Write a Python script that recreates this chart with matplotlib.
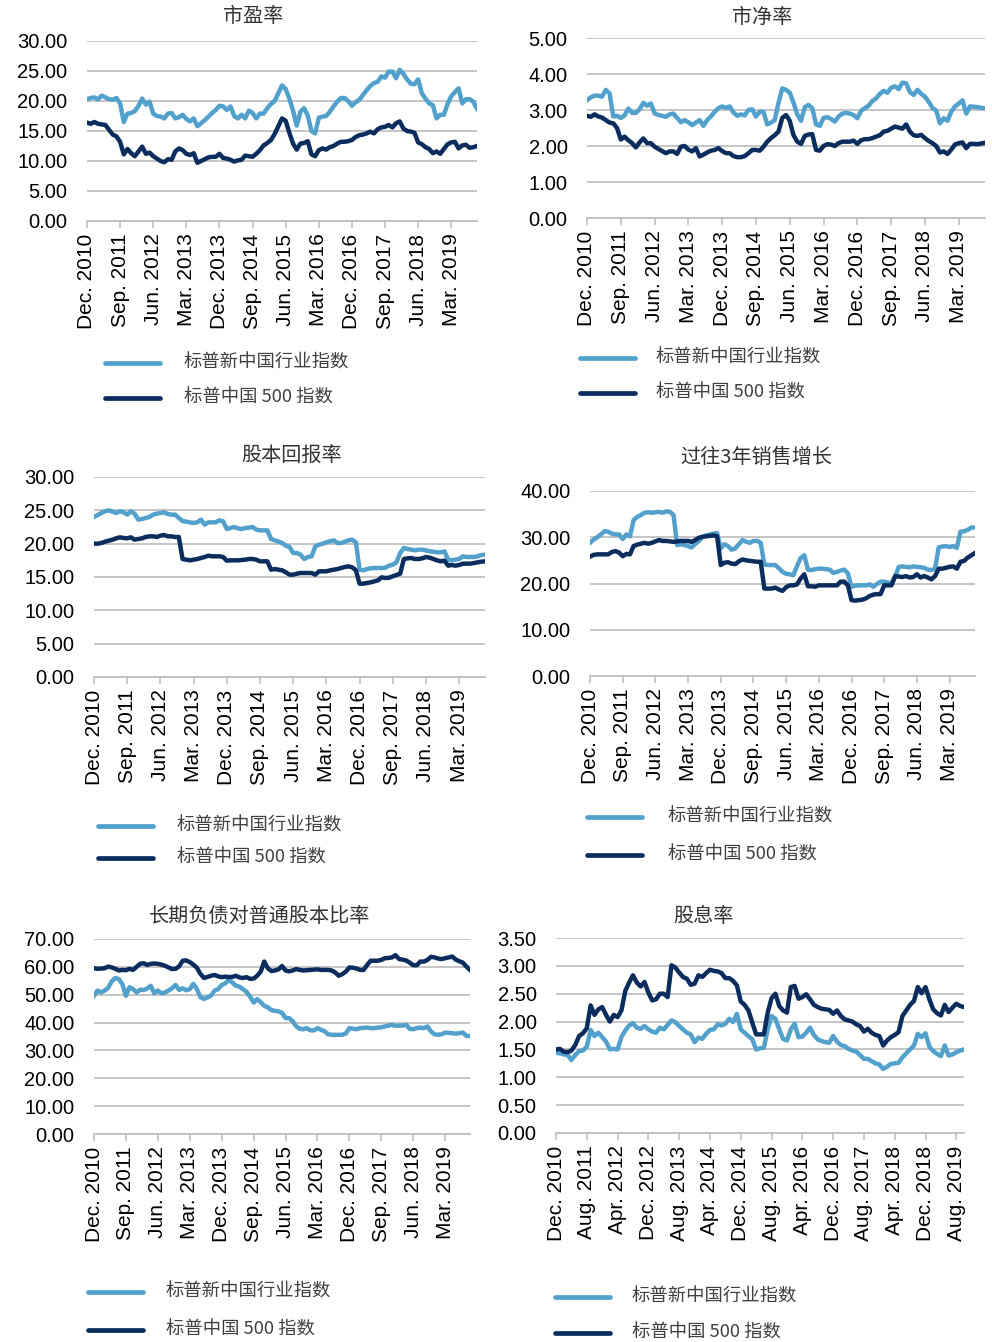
import matplotlib
matplotlib.use('Agg')
import matplotlib.pyplot as plt
from matplotlib.ticker import FormatStrFormatter
import numpy as np
import pandas as pd

# monthly observations, Dec 2010 - Oct 2019
months = pd.date_range('2010-12-01', periods=107, freq='MS')

series_names = ['标普新中国行业指数', '标普中国 500 指数']

pe_new = [20.3, 20.5, 20.6, 20.3, 20.9, 20.6, 20.3, 20.2, 20.5, 19.6,
          16.5, 17.9, 18.0, 18.3, 19.2, 20.4, 19.4, 19.9, 17.9, 17.5,
          17.4, 17.1, 17.9, 18.0, 17.1, 17.3, 17.7, 17.0, 16.6, 17.1,
          15.8, 16.3, 16.8, 17.4, 18.0, 18.5, 19.2, 19.1, 18.5, 19.1,
          17.5, 17.1, 17.7, 17.1, 18.4, 18.0, 17.1, 17.9, 17.9, 18.8,
          19.5, 20.0, 21.3, 22.6, 22.0, 20.4, 18.4, 15.9, 18.2, 18.8,
          17.6, 15.0, 14.6, 17.2, 17.4, 17.5, 18.2, 19.1, 19.9, 20.5,
          20.5, 20.0, 19.2, 19.8, 20.2, 21.0, 21.8, 22.5, 23.0, 23.2,
          24.1, 23.9, 24.9, 24.9, 23.8, 25.2, 24.5, 23.6, 22.9, 22.8,
          23.6, 21.3, 20.4, 19.6, 19.3, 17.1, 17.7, 17.7, 19.5, 20.8,
          21.5, 22.1, 19.6, 20.3, 20.3, 19.9, 18.7]
pe_500 = [16.4, 16.2, 16.5, 16.2, 16.1, 16.0, 15.2, 14.4, 14.1, 13.2,
          11.1, 12.0, 11.3, 10.8, 11.6, 12.4, 11.2, 11.4, 10.8, 10.4,
          10.0, 9.8, 10.3, 10.2, 11.6, 12.1, 11.8, 11.2, 11.0, 11.3,
          9.7, 10.0, 10.3, 10.6, 10.7, 10.7, 11.2, 10.5, 10.4, 10.2,
          9.9, 10.1, 10.2, 10.9, 10.8, 10.7, 11.2, 11.8, 12.6, 13.0,
          13.5, 14.5, 15.8, 17.1, 16.7, 14.7, 12.9, 11.9, 12.9, 13.0,
          13.3, 11.1, 10.8, 11.8, 12.1, 11.9, 12.3, 12.5, 12.9, 13.2,
          13.2, 13.3, 13.5, 14.0, 14.3, 14.4, 14.6, 14.9, 14.6, 15.3,
          15.6, 15.7, 16.0, 15.6, 16.3, 16.6, 15.4, 15.0, 14.9, 14.7,
          13.1, 12.8, 12.3, 12.0, 11.3, 11.6, 11.2, 12.0, 12.8, 13.1,
          13.2, 12.1, 12.6, 12.7, 12.2, 12.3, 12.5]

pb_new = [3.27, 3.35, 3.40, 3.40, 3.37, 3.56, 3.46, 2.82, 2.84, 2.78,
          2.85, 3.04, 2.92, 2.92, 3.02, 3.20, 3.12, 3.18, 2.91, 2.86,
          2.84, 2.81, 2.88, 2.90, 2.78, 2.66, 2.72, 2.66, 2.58, 2.65,
          2.72, 2.56, 2.72, 2.82, 2.95, 3.05, 3.10, 3.06, 3.10, 2.93,
          2.84, 2.88, 2.85, 3.00, 3.02, 2.82, 2.95, 2.95, 2.60, 2.65,
          2.72, 3.20, 3.60, 3.56, 3.48, 3.20, 2.88, 2.70, 3.08, 3.14,
          3.05, 2.60, 2.56, 2.78, 2.80, 2.75, 2.68, 2.82, 2.90, 2.92,
          2.90, 2.86, 2.77, 2.98, 3.05, 3.12, 3.25, 3.32, 3.45, 3.53,
          3.48, 3.62, 3.66, 3.58, 3.76, 3.74, 3.50, 3.42, 3.56, 3.45,
          3.37, 3.23, 3.06, 2.98, 2.63, 2.77, 2.70, 2.95, 3.10, 3.18,
          3.27, 2.90, 3.10, 3.09, 3.08, 3.06, 3.04]
pb_500 = [2.84, 2.81, 2.88, 2.82, 2.79, 2.72, 2.65, 2.63, 2.50, 2.18,
          2.26, 2.16, 2.08, 1.96, 2.10, 2.21, 2.08, 2.08, 1.98, 1.92,
          1.86, 1.80, 1.85, 1.85, 1.78, 1.98, 2.00, 1.90, 1.85, 1.94,
          1.71, 1.76, 1.82, 1.87, 1.89, 1.94, 1.86, 1.80, 1.80, 1.72,
          1.69, 1.69, 1.72, 1.80, 1.89, 1.89, 1.87, 1.98, 2.12, 2.22,
          2.30, 2.40, 2.78, 2.86, 2.70, 2.30, 2.12, 2.06, 2.28, 2.32,
          2.33, 1.89, 1.87, 2.00, 2.05, 2.04, 2.00, 2.08, 2.12, 2.12,
          2.12, 2.15, 2.06, 2.16, 2.19, 2.19, 2.22, 2.26, 2.30, 2.40,
          2.42, 2.48, 2.54, 2.51, 2.48, 2.60, 2.40, 2.30, 2.28, 2.31,
          2.22, 2.14, 2.08, 2.00, 1.82, 1.85, 1.78, 1.90, 2.04, 2.08,
          2.10, 1.94, 2.06, 2.06, 2.05, 2.07, 2.09]

roe_new = [24.0, 24.3, 24.6, 24.85, 25.0, 24.8, 24.6, 24.85, 24.7, 24.35,
           24.85, 24.5, 23.6, 23.7, 23.85, 24.0, 24.35, 24.5, 24.6, 24.7,
           24.45, 24.35, 24.35, 23.85, 23.4, 23.3, 23.2, 23.1, 23.2, 23.6,
           22.85, 23.2, 23.2, 23.2, 23.5, 23.35, 22.2, 22.35, 22.5, 22.3,
           22.2, 22.35, 22.4, 22.5, 22.1, 22.0, 22.0, 22.0, 20.7, 20.5,
           20.3, 20.1, 19.7, 19.5, 18.6, 18.6, 18.35, 17.7, 18.0, 18.1,
           19.6, 19.85, 20.0, 20.2, 20.35, 20.5, 20.1, 20.1, 20.3, 20.5,
           20.6, 20.2, 16.1, 16.0, 16.2, 16.3, 16.35, 16.35, 16.35, 16.4,
           16.7, 16.85, 17.2, 18.6, 19.35, 19.2, 19.1, 19.0, 19.1, 19.1,
           19.0, 18.85, 18.8, 18.7, 18.7, 18.85, 17.6, 17.5, 17.6, 17.7,
           18.1, 18.0, 18.0, 18.0, 18.1, 18.3, 18.35]
roe_500 = [20.0, 20.0, 20.1, 20.3, 20.45, 20.6, 20.8, 20.95, 20.85, 20.8,
           20.95, 20.6, 20.7, 20.8, 21.0, 21.1, 21.1, 21.0, 21.2, 21.3,
           21.1, 21.1, 21.0, 21.0, 17.7, 17.6, 17.5, 17.6, 17.7, 17.85,
           18.0, 18.2, 18.1, 18.1, 18.1, 18.0, 17.45, 17.5, 17.5, 17.5,
           17.55, 17.6, 17.7, 17.7, 17.6, 17.35, 17.35, 17.35, 16.1, 16.2,
           16.1, 16.0, 15.7, 15.35, 15.35, 15.5, 15.6, 15.6, 15.6, 15.6,
           15.35, 15.85, 15.85, 15.85, 16.0, 16.1, 16.2, 16.35, 16.5, 16.6,
           16.45, 16.0, 14.0, 14.0, 14.1, 14.2, 14.35, 14.5, 14.95, 14.85,
           14.9, 15.1, 15.3, 15.5, 17.7, 17.8, 17.85, 17.7, 17.7, 17.8,
           18.0, 17.9, 17.7, 17.5, 17.35, 17.45, 16.7, 16.8, 16.7, 16.8,
           17.0, 17.0, 17.0, 17.1, 17.2, 17.3, 17.35]

sales_new = [28.8, 29.5, 30.0, 30.6, 31.3, 31.2, 30.8, 30.6, 30.6, 29.6,
             30.6, 30.2, 33.7, 34.4, 34.8, 35.3, 35.4, 35.3, 35.4, 35.5,
             35.3, 35.6, 35.5, 34.8, 28.3, 28.5, 28.3, 28.1, 27.8, 28.6,
             29.2, 30.1, 30.4, 30.6, 30.8, 30.9, 27.6, 28.5, 28.1, 27.3,
             27.6, 28.5, 29.4, 29.0, 28.8, 29.2, 29.2, 28.8, 24.1, 24.0,
             24.0, 24.0, 23.3, 22.5, 22.1, 22.0, 21.8, 23.8, 25.5, 26.1,
             23.0, 22.9, 23.1, 23.2, 23.2, 23.1, 23.0, 22.3, 22.5, 22.8,
             23.0, 22.2, 19.3, 19.5, 19.6, 19.6, 19.6, 19.8, 19.3, 19.9,
             20.4, 20.4, 20.2, 20.0, 21.4, 23.6, 23.7, 23.6, 23.5, 23.7,
             23.6, 23.5, 23.4, 23.0, 22.9, 23.2, 27.8, 28.0, 28.1, 27.9,
             28.1, 27.7, 31.2, 31.3, 31.6, 32.1, 32.1]
sales_500 = [25.8, 26.2, 26.3, 26.3, 26.3, 26.3, 26.8, 27.0, 26.7, 25.9,
             26.4, 26.3, 28.1, 28.4, 28.6, 28.8, 28.6, 28.8, 29.1, 29.4,
             29.2, 29.2, 29.1, 29.0, 29.1, 29.2, 29.2, 29.2, 29.0, 29.4,
             29.9, 30.1, 30.2, 30.3, 30.4, 30.2, 24.0, 24.5, 24.6, 24.3,
             24.2, 24.8, 25.2, 25.0, 24.9, 24.8, 24.7, 24.7, 18.9, 18.9,
             18.9, 19.1, 18.7, 18.4, 19.2, 19.6, 19.6, 19.8, 21.1, 22.0,
             19.4, 19.4, 19.3, 19.6, 19.6, 19.6, 19.6, 19.6, 19.6, 20.4,
             20.4, 19.6, 16.4, 16.3, 16.4, 16.5, 16.8, 17.3, 17.6, 17.7,
             17.7, 19.6, 19.6, 19.6, 21.6, 21.5, 21.4, 21.6, 21.3, 21.4,
             22.0, 21.3, 21.6, 21.3, 20.9, 21.6, 23.2, 23.2, 23.4, 23.6,
             23.7, 23.2, 24.7, 24.9, 25.6, 26.1, 26.6]

debt_new = [49.6, 51.5, 50.8, 51.5, 52.5, 54.8, 56.0, 55.6, 53.8, 49.6,
            52.7, 52.0, 50.8, 51.8, 51.7, 52.2, 53.2, 50.5, 51.5, 50.5,
            50.8, 51.5, 52.3, 53.5, 51.7, 52.3, 51.6, 52.0, 53.9, 52.0,
            49.1, 48.5, 49.0, 49.7, 51.5, 52.0, 53.5, 54.1, 55.3, 54.4,
            53.2, 52.9, 52.0, 51.0, 49.3, 47.2, 48.4, 47.3, 46.0, 45.5,
            44.5, 44.2, 44.0, 43.5, 41.6, 41.6, 40.5, 38.6, 37.8, 37.6,
            38.0, 37.2, 37.2, 38.0, 37.4, 36.9, 35.8, 35.6, 35.6, 35.6,
            35.6, 36.1, 38.0, 37.8, 37.6, 38.0, 38.1, 38.2, 38.0, 38.0,
            38.2, 38.3, 38.6, 38.9, 39.2, 38.8, 38.9, 38.9, 39.2, 37.8,
            37.6, 38.0, 38.2, 38.0, 38.6, 36.8, 35.8, 35.6, 35.8, 36.4,
            36.3, 36.2, 36.0, 36.2, 36.4, 35.2, 35.2]
debt_500 = [59.5, 59.3, 59.4, 59.5, 60.1, 59.8, 59.3, 58.7, 58.9, 58.8,
            59.3, 58.9, 60.0, 61.1, 61.3, 60.7, 61.1, 61.2, 61.1, 60.8,
            60.4, 59.8, 59.2, 59.3, 60.2, 62.2, 62.3, 61.7, 60.8, 59.7,
            57.5, 56.0, 56.4, 56.8, 57.1, 56.6, 56.3, 56.5, 56.3, 56.4,
            56.8, 56.2, 56.0, 56.3, 55.7, 55.8, 56.8, 58.3, 61.9, 59.5,
            58.5, 58.7, 59.1, 60.3, 58.7, 58.4, 58.7, 59.2, 58.9, 58.7,
            58.8, 58.9, 59.0, 59.1, 58.9, 58.9, 58.9, 58.7, 58.0, 56.8,
            57.4, 58.3, 59.8, 59.7, 59.4, 58.9, 58.9, 60.7, 62.2, 62.2,
            62.2, 62.5, 63.1, 63.2, 63.4, 64.2, 62.8, 62.6, 62.3, 61.5,
            60.6, 60.6, 61.9, 61.9, 62.5, 63.6, 63.4, 63.0, 62.8, 63.1,
            63.4, 63.7, 62.6, 62.0, 61.5, 60.1, 58.9]

dy_new = [1.44, 1.43, 1.41, 1.40, 1.31, 1.40, 1.47, 1.48, 1.55, 1.85,
          1.74, 1.80, 1.72, 1.64, 1.50, 1.51, 1.50, 1.72, 1.84, 1.93,
          1.97, 1.89, 1.87, 1.92, 1.86, 1.82, 1.80, 1.89, 1.86, 1.94,
          2.02, 1.99, 1.92, 1.86, 1.80, 1.77, 1.63, 1.71, 1.69, 1.78,
          1.85, 1.86, 1.95, 1.93, 1.96, 2.05, 1.99, 2.14, 1.86, 1.80,
          1.74, 1.68, 1.50, 1.52, 1.53, 1.86, 2.10, 2.05, 1.86, 1.69,
          1.66, 1.86, 1.96, 1.72, 1.73, 1.80, 1.89, 1.76, 1.68, 1.65,
          1.63, 1.62, 1.74, 1.64, 1.58, 1.56, 1.51, 1.48, 1.46, 1.40,
          1.33, 1.33, 1.29, 1.25, 1.23, 1.15, 1.19, 1.24, 1.25, 1.26,
          1.36, 1.43, 1.50, 1.57, 1.78, 1.72, 1.79, 1.55, 1.47, 1.42,
          1.38, 1.57, 1.39, 1.41, 1.45, 1.48, 1.50]
dy_500 = [1.50, 1.51, 1.46, 1.45, 1.48, 1.58, 1.74, 1.79, 1.88, 2.29,
          2.12, 2.22, 2.26, 2.12, 2.00, 2.12, 2.08, 2.20, 2.55, 2.70,
          2.83, 2.70, 2.63, 2.71, 2.52, 2.38, 2.40, 2.50, 2.50, 2.44,
          3.01, 2.97, 2.88, 2.80, 2.77, 2.66, 2.68, 2.83, 2.80, 2.87,
          2.93, 2.91, 2.90, 2.87, 2.78, 2.78, 2.73, 2.65, 2.36, 2.30,
          2.20, 1.98, 1.77, 1.77, 1.77, 2.16, 2.42, 2.50, 2.28, 2.20,
          2.16, 2.62, 2.64, 2.41, 2.44, 2.49, 2.40, 2.30, 2.26, 2.23,
          2.22, 2.21, 2.14, 2.20, 2.10, 2.04, 2.02, 2.00, 1.95, 1.92,
          1.82, 1.87, 1.80, 1.76, 1.74, 1.57, 1.66, 1.72, 1.76, 1.81,
          2.10, 2.20, 2.30, 2.37, 2.62, 2.51, 2.62, 2.40, 2.22, 2.15,
          2.11, 2.30, 2.17, 2.25, 2.32, 2.28, 2.26]

LIGHT = '#52A0CC'
DARK = '#0B2D5E'
GRID = '#C0C0C0'
CJK = ['Noto Sans CJK SC', 'DejaVu Sans']

plt.rcParams['font.family'] = ['Liberation Sans', 'Noto Sans CJK SC']

W, H = 992, 1342
fig = plt.figure(figsize=(W / 100, H / 100), dpi=100)


def box(l, t, r, b):
    # pixel rectangle -> figure fraction
    return [l / W, 1 - b / H, (r - l) / W, (b - t) / H]


def draw(title, new, old, ymax, ystep, step, rect, tpos):
    ax = fig.add_axes(box(*rect))
    x = np.arange(len(months))
    ax.plot(x, new, color=LIGHT, lw=3.2)
    ax.plot(x, old, color=DARK, lw=3.2)
    ax.set_xlim(0, len(months) - 1)
    ax.set_ylim(0, ymax)
    ax.set_yticks(np.arange(0, ymax + ystep / 2, ystep))
    ax.yaxis.set_major_formatter(FormatStrFormatter('%.2f'))
    ticks = list(range(0, len(months), step))
    ax.set_xticks(ticks)
    ax.set_xticklabels([months[i].strftime('%b. %Y') for i in ticks], rotation=90)
    ax.tick_params(axis='x', length=5, width=1.2, color=GRID, pad=4, labelsize=15)
    ax.tick_params(axis='y', length=0, pad=14, labelsize=14.5)
    for s in ['top', 'right', 'left']:
        ax.spines[s].set_visible(False)
    ax.spines['bottom'].set_color(GRID)
    ax.spines['bottom'].set_linewidth(1.3)
    ax.grid(axis='y', color=GRID, lw=1.3)
    ax.set_axisbelow(True)
    fig.text(tpos[0] / W, 1 - tpos[1] / H, title, ha='center', va='center',
             fontsize=14.5, family=CJK, color='#333333')
    return ax


draw('市盈率', pe_new, pe_500, 30, 5, 9, (87, 41, 477, 221), (253, 17))
draw('市净率', pb_new, pb_500, 5, 1, 9, (587, 38, 985, 218), (762, 17))
draw('股本回报率', roe_new, roe_500, 30, 5, 9, (94, 477, 485, 677), (292, 455))
draw('过往3年销售增长', sales_new, sales_500, 40, 10, 9, (590, 491, 975, 676), (756, 457))
draw('长期负债对普通股本比率', debt_new, debt_500, 70, 10, 9, (94, 939, 470, 1134), (260, 916))
draw('股息率', dy_new, dy_500, 3.5, 0.5, 8, (556, 938, 964, 1133), (703, 917))

# legends, drawn in pixel space
ov = fig.add_axes([0, 0, 1, 1])
ov.set_xlim(0, W)
ov.set_ylim(H, 0)
ov.axis('off')
legends = [(105, 184, 363, 398), (580, 656, 358, 393), (98, 177, 826, 858),
           (587, 668, 817, 855), (88, 166, 1292, 1330), (555, 632, 1297, 1333)]
for lx, tx, y1, y2 in legends:
    for y, c, name in [(y1, LIGHT, series_names[0]), (y2, DARK, series_names[1])]:
        ov.plot([lx, lx + 55], [y, y], color=c, lw=3.4, solid_capstyle='round')
        ov.text(tx, y, name, va='center', ha='left', fontsize=13.2,
                family=CJK, color='#404040')

fig.savefig('out.png', dpi=100)
